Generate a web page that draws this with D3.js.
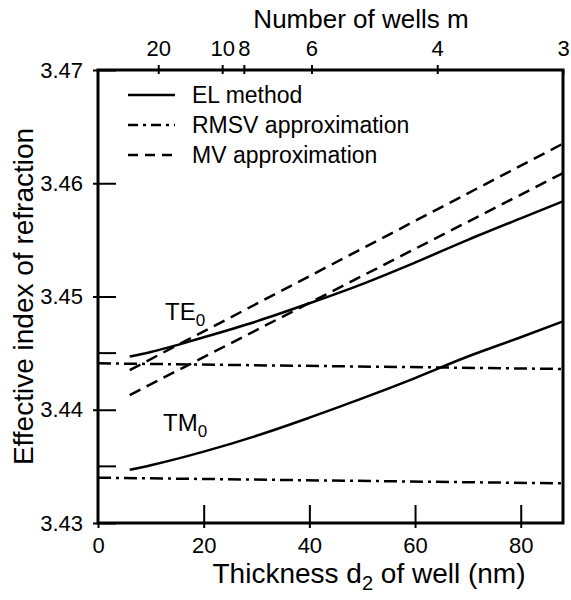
<!DOCTYPE html>
<html>
<head>
<meta charset="utf-8">
<script src="https://cdn.jsdelivr.net/npm/d3@7"></script>
<style>
  body { margin: 0; background: #fff; }
  svg { font-family: "Liberation Sans", Arial, sans-serif; }
</style>
</head>
<body>
<script>
// thickness of well d2 (nm) where the curves are read
const d2 = [6, 10, 20, 30, 40, 50, 60, 70, 80, 88];
const teEL = [3.4447, 3.4451, 3.4464, 3.4478, 3.4494, 3.4511, 3.4530, 3.4550, 3.4569, 3.4584];
const tmEL = [3.4347, 3.4351, 3.4363, 3.4377, 3.4393, 3.4410, 3.4428, 3.4447, 3.4464, 3.4478];

// MV approximation (straight lines)
const d2MV = [6, 88];
const teMV = [3.4435, 3.4635];
const tmMV = [3.4413, 3.4609];

// RMSV approximation (nearly flat)
const d2RMSV = [0, 88];
const teRMSV = [3.4441, 3.4436];
const tmRMSV = [3.4340, 3.4335];

const yTicks = [3.43, 3.44, 3.45, 3.46, 3.47];
const yMinor = [3.435, 3.445];
const xTicks = [0, 20, 40, 60, 80];
// top axis: number of wells m, placed at the matching d2
const wellsM = ["20", "10", "8", "6", "4", "3"];
const wellsD2 = [11.4, 23.5, 27.6, 40.4, 64.2, 88];

const W = 571, H = 600;
const margin = {top: 70, right: 8, bottom: 77, left: 98};

const svg = d3.select("body").append("svg")
  .attr("width", W)
  .attr("height", H);

const x = d3.scaleLinear().domain([0, 88]).range([margin.left, W - margin.right]);
const y = d3.scaleLinear().domain([3.43, 3.47]).range([H - margin.bottom, margin.top]);

// frame
svg.append("rect")
  .attr("x", x(0)).attr("y", y(3.47))
  .attr("width", x(88) - x(0)).attr("height", y(3.43) - y(3.47))
  .attr("fill", "none").attr("stroke", "#000").attr("stroke-width", 3);

// left axis
const yAxis = d3.axisLeft(y).tickValues(yTicks).tickFormat(d3.format(".2f")).tickPadding(9);
const gy = svg.append("g").attr("transform", "translate(" + x(0) + ",0)").call(yAxis);
gy.select(".domain").remove();
gy.selectAll(".tick line").attr("x1", -5).attr("x2", 18).attr("stroke-width", 2);
gy.selectAll(".tick text").attr("font-size", 22).attr("fill", "#000");

svg.selectAll(".minor").data(yMinor).enter().append("line")
  .attr("x1", x(0)).attr("x2", x(0) + 18)
  .attr("y1", d => y(d)).attr("y2", d => y(d))
  .attr("stroke", "#000").attr("stroke-width", 2);

// bottom axis
const xAxis = d3.axisBottom(x).tickValues(xTicks).tickFormat(d3.format("d")).tickPadding(8);
const gx = svg.append("g").attr("transform", "translate(0," + y(3.43) + ")").call(xAxis);
gx.select(".domain").remove();
gx.selectAll(".tick line").attr("y1", 5).attr("y2", d => d == 0 ? 0 : -18).attr("stroke-width", 2);
gx.selectAll(".tick text").attr("font-size", 22).attr("fill", "#000");

// top axis
const topAxis = d3.axisTop(x).tickValues(wellsD2).tickFormat((d, i) => wellsM[i]).tickPadding(8);
const gt = svg.append("g").attr("transform", "translate(0," + y(3.47) + ")").call(topAxis);
gt.select(".domain").remove();
gt.selectAll(".tick line").attr("y1", 4).attr("y2", d => d == 88 ? 0 : -5).attr("stroke-width", 2);
gt.selectAll(".tick text").attr("font-size", 22).attr("fill", "#000");

// axis titles
svg.append("text")
  .attr("x", 361).attr("y", 28)
  .attr("text-anchor", "middle").attr("font-size", 26)
  .text("Number of wells m");

const xt = svg.append("text")
  .attr("x", 369).attr("y", 583)
  .attr("text-anchor", "middle").attr("font-size", 28);
xt.append("tspan").text("Thickness d");
xt.append("tspan").attr("dy", 7).attr("font-size", 20).text("2");
xt.append("tspan").attr("dy", -7).text(" of well (nm)");

svg.append("text")
  .attr("transform", "translate(33," + ((y(3.43) + y(3.47)) / 2) + ") rotate(-90)")
  .attr("text-anchor", "middle").attr("font-size", 28)
  .text("Effective index of refraction");

// curves
const line = d3.line().x(d => x(d[0])).y(d => y(d[1])).curve(d3.curveMonotoneX);
const styles = {
  solid: null,
  dash: "12,7",
  dashdot: "13,5,3,5"
};
const curves = [
  {xs: d2, ys: teEL, s: "solid"},
  {xs: d2, ys: tmEL, s: "solid"},
  {xs: d2MV, ys: teMV, s: "dash"},
  {xs: d2MV, ys: tmMV, s: "dash"},
  {xs: d2RMSV, ys: teRMSV, s: "dashdot"},
  {xs: d2RMSV, ys: tmRMSV, s: "dashdot"}
];
svg.selectAll(".curve").data(curves).enter().append("path")
  .attr("class", "curve")
  .attr("d", c => line(c.xs.map((v, i) => [v, c.ys[i]])))
  .attr("fill", "none")
  .attr("stroke", "#000")
  .attr("stroke-width", 2.5)
  .attr("stroke-dasharray", c => styles[c.s]);

// mode labels
function modeLabel(px, py, main) {
  const t = svg.append("text").attr("x", px).attr("y", py).attr("font-size", 24);
  t.append("tspan").text(main);
  t.append("tspan").attr("dy", 6).attr("font-size", 17).text("0");
}
modeLabel(165, 320, "TE");
modeLabel(163, 431, "TM");

// legend
const legendItems = [
  {label: "EL method", s: "solid"},
  {label: "RMSV approximation", s: "dashdot"},
  {label: "MV approximation", s: "dash"}
];
const lg = svg.append("g").selectAll("g").data(legendItems).enter().append("g")
  .attr("transform", (d, i) => "translate(128," + (95 + i * 30) + ")");
lg.append("line")
  .attr("x1", 0).attr("x2", 47)
  .attr("stroke", "#000").attr("stroke-width", 2.5)
  .attr("stroke-dasharray", d => d.s == "dashdot" ? "10,5,3,5" : d.s == "dash" ? "10,7" : null);
lg.append("text")
  .attr("x", 64).attr("y", 8)
  .attr("font-size", 23)
  .text(d => d.label);
</script>
</body>
</html>
